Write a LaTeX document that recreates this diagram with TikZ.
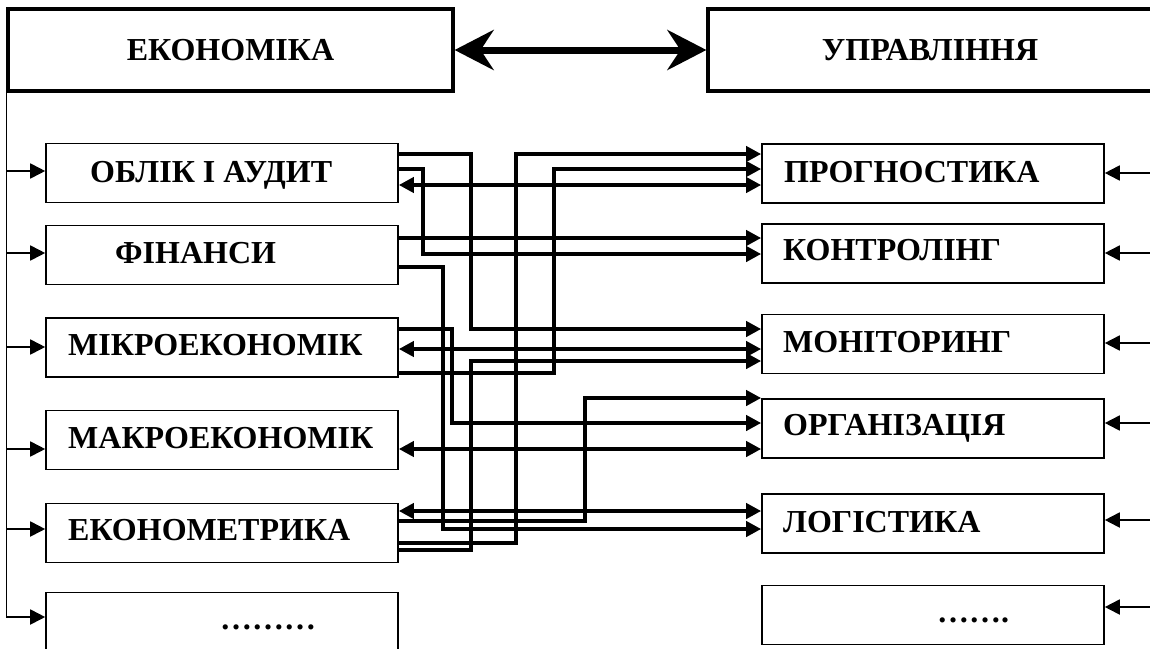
\documentclass[tikz,border=0pt]{standalone}
\usepackage{fontspec}
\setmainfont{Liberation Serif}
\usepackage{tikz}
\usetikzlibrary{arrows.meta}
\def\largeur{1150}
\def\hauteur{648}

\begin{document}
\begin{tikzpicture}[x=1pt, y=-1pt,
	boite/.style={draw, line width=1.6pt, rectangle, inner sep=0pt, minimum height=59pt},
	grande/.style={draw, line width=3.2pt, rectangle, inner sep=0pt, minimum width=445pt, minimum height=82pt, font=\bfseries\fontsize{32}{36}\selectfont},
	titre/.style={anchor=base west, inner sep=0pt, font=\bfseries\fontsize{32}{36}\selectfont},
	lien/.style={line width=4pt, -{Triangle[length=15pt,width=15pt]}},
	deuxsens/.style={line width=4pt, {Triangle[length=15pt,width=15pt]}-{Triangle[length=15pt,width=15pt]}},
	fleche/.style={line width=1.8pt, -{Triangle[length=15pt,width=15pt]}}]
	\path[use as bounding box, clip] (0,0) rectangle (\largeur,\hauteur);
	%\draw[step=50, very thin, black!20] (0,0) grid (\largeur,\hauteur);

	\node[grande] (eco) at (230.5,50) {ЕКОНОМІКА};
	\node[grande, minimum width=444pt] (upr) at (930,50) {УПРАВЛІННЯ};
	\draw[line width=7pt, {Stealth[length=39pt,width=40pt,inset=13pt]}-{Stealth[length=39pt,width=40pt,inset=13pt]}] (eco) -- (upr);

	\foreach \n/\y in {oblik/173, fin/255, micro/347.5, macro/440, ekmet/533, gpoints/622}
		\node[boite, minimum width=352pt] (\n) at (222,\y) {};
	\foreach \n/\y in {prog/173.5, kontr/253.5, monit/344, org/428.5, log/523.5, dpoints/615}
		\node[boite, minimum width=342pt] (\n) at (933,\y) {};

	\node[titre] (t-oblik) at (90,182) {ОБЛІК І АУДИТ};
	\node[titre] (t-fin) at (115,263) {ФІНАНСИ};
	\node[titre] (t-micro) at (68,355) {МІКРОЕКОНОМІК};
	\node[titre] (t-macro) at (68,448) {МАКРОЕКОНОМІК};
	\node[titre] (t-ekmet) at (68,540) {ЕКОНОМЕТРИКА};
	\node[titre] (t-gpoints) at (220,629) {………};
	\node[titre] (t-prog) at (784,182) {ПРОГНОСТИКА};
	\node[titre] (t-kontr) at (783,260) {КОНТРОЛІНГ};
	\node[titre] (t-monit) at (783,352) {МОНІТОРИНГ};
	\node[titre] (t-org) at (783,435) {ОРГАНІЗАЦІЯ};
	\node[titre] (t-log) at (783,532) {ЛОГІСТИКА};
	\node[titre] (t-dpoints) at (937,622) {…….};

	% entrees
	\draw[line width=1.8pt] (eco.south west) -- (eco.south west |- 0,617);
	\foreach \n/\y in {oblik/171, fin/253, micro/347, macro/449, ekmet/529, gpoints/617}
		\draw[fleche] (eco.south west |- 0,\y) -- (\n.west |- 0,\y);
	\coordinate (bord) at (\largeur,0);
	\foreach \n/\y in {prog/173, kontr/253, monit/343, org/423, log/520, dpoints/607}
		\draw[fleche] (bord |- 0,\y) -- (\n.east |- 0,\y);

	% liens
	\draw[lien] (oblik.east |- 0,154) -| (471,329) -- (monit.west |- 0,329);
	\draw[lien] (oblik.east |- 0,169) -| (423,254) -- (kontr.west |- 0,254);
	\draw[deuxsens] (oblik.east |- 0,185) -- (prog.west |- 0,185);
	\draw[lien] (fin.east |- 0,238) -- (kontr.west |- 0,238);
	\draw[lien] (fin.east |- 0,267) -| (443,529) -- (log.west |- 0,529);
	\draw[lien] (micro.east |- 0,329) -| (452,423) -- (org.west |- 0,423);
	\draw[deuxsens] (micro.east |- 0,349) -- (monit.west |- 0,349);
	\draw[lien] (micro.east |- 0,373) -| (554,169) -- (prog.west |- 0,169);
	\draw[deuxsens] (macro.east |- 0,449) -- (org.west |- 0,449);
	\draw[deuxsens] (ekmet.east |- 0,511) -- (log.west |- 0,511);
	\draw[lien] (ekmet.east |- 0,521) -| (585,398) -- (org.west |- 0,398);
	\draw[lien] (ekmet.east |- 0,543) -| (516,154) -- (prog.west |- 0,154);
	\draw[lien] (ekmet.east |- 0,550) -| (471,361) -- (monit.west |- 0,361);
\end{tikzpicture}
\end{document}
